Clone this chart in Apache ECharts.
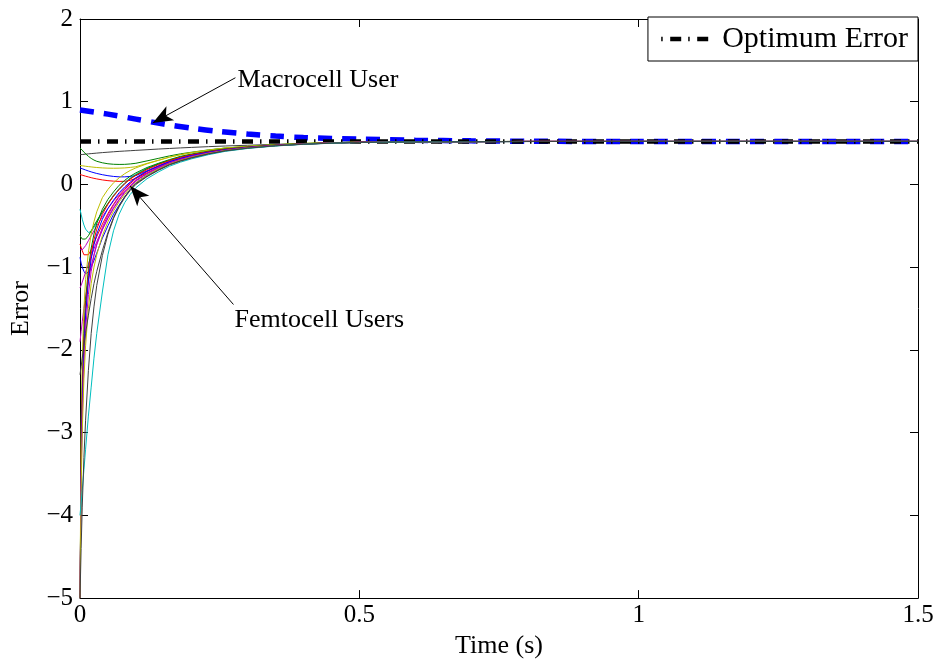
<!DOCTYPE html>
<html>
<head>
<meta charset="utf-8">
<script src="https://cdn.jsdelivr.net/npm/echarts@6/dist/echarts.min.js"></script>
<style>
  html, body { margin: 0; padding: 0; background: #fff; }
  #chart { width: 940px; height: 664px; }
</style>
</head>
<body>
<div id="chart"></div>
<script>
// Sample times (s) shared by all femtocell user trajectories
const TIME = [0, 0.002, 0.004, 0.007, 0.01, 0.015, 0.02, 0.025, 0.03, 0.04, 0.05, 0.06, 0.07, 0.08, 0.09, 0.1,
  0.12, 0.14, 0.16, 0.18, 0.2, 0.23, 0.26, 0.3, 0.35, 0.4, 0.45, 0.5, 0.6, 0.8, 1.0, 1.5];

// Femtocell user error trajectories (one array per user)
const FEMTO_1  = [0.36, 0.361, 0.362, 0.364, 0.366, 0.37, 0.373, 0.376, 0.379, 0.385, 0.39, 0.395, 0.4, 0.404, 0.408, 0.412,
  0.42, 0.428, 0.435, 0.442, 0.448, 0.457, 0.465, 0.474, 0.485, 0.494, 0.502, 0.508, 0.515, 0.519, 0.52, 0.52];
const FEMTO_2  = [0.44, 0.43, 0.415, 0.39, 0.37, 0.34, 0.315, 0.295, 0.28, 0.262, 0.25, 0.244, 0.242, 0.243, 0.248, 0.256,
  0.285, 0.315, 0.345, 0.37, 0.39, 0.418, 0.44, 0.46, 0.48, 0.495, 0.505, 0.512, 0.517, 0.52, 0.52, 0.52];
const FEMTO_3  = [0.23, 0.228, 0.226, 0.223, 0.22, 0.216, 0.212, 0.208, 0.205, 0.2, 0.197, 0.196, 0.197, 0.2, 0.206, 0.214,
  0.255, 0.292, 0.33, 0.36, 0.385, 0.415, 0.44, 0.46, 0.48, 0.495, 0.505, 0.512, 0.517, 0.52, 0.52, 0.52];
const FEMTO_4  = [0.2, 0.195, 0.19, 0.182, 0.175, 0.163, 0.152, 0.142, 0.133, 0.118, 0.106, 0.097, 0.092, 0.092, 0.097, 0.108,
  0.165, 0.222, 0.275, 0.315, 0.35, 0.39, 0.42, 0.448, 0.473, 0.49, 0.502, 0.51, 0.516, 0.52, 0.52, 0.52];
const FEMTO_5  = [0.12, 0.116, 0.112, 0.106, 0.1, 0.091, 0.082, 0.074, 0.067, 0.055, 0.046, 0.04, 0.037, 0.038, 0.05, 0.075,
  0.14, 0.205, 0.262, 0.305, 0.342, 0.384, 0.416, 0.446, 0.471, 0.489, 0.501, 0.509, 0.516, 0.52, 0.52, 0.52];
const FEMTO_6  = [-0.3, -0.36, -0.42, -0.49, -0.54, -0.58, -0.57, -0.52, -0.46, -0.34, -0.23, -0.13, -0.05, 0.02, 0.08, 0.125,
  0.195, 0.25, 0.295, 0.335, 0.363, 0.4, 0.43, 0.454, 0.477, 0.492, 0.503, 0.511, 0.517, 0.52, 0.52, 0.52];
const FEMTO_7  = [-0.62, -0.64, -0.66, -0.67, -0.66, -0.62, -0.56, -0.5, -0.44, -0.33, -0.23, -0.14, -0.06, 0.01, 0.07, 0.115,
  0.19, 0.245, 0.29, 0.33, 0.36, 0.397, 0.427, 0.452, 0.476, 0.491, 0.503, 0.511, 0.517, 0.52, 0.52, 0.52];
const FEMTO_8  = [-0.72, -0.76, -0.8, -0.85, -0.87, -0.85, -0.79, -0.71, -0.63, -0.48, -0.35, -0.24, -0.14, -0.06, 0.01, 0.07,
  0.155, 0.22, 0.272, 0.313, 0.348, 0.388, 0.419, 0.447, 0.472, 0.49, 0.502, 0.51, 0.516, 0.52, 0.52, 0.52];
const FEMTO_9  = [-0.78, -0.79, -0.79, -0.77, -0.74, -0.68, -0.62, -0.56, -0.5, -0.39, -0.29, -0.2, -0.12, -0.05, 0.02, 0.08,
  0.16, 0.22, 0.275, 0.315, 0.35, 0.39, 0.42, 0.448, 0.473, 0.49, 0.502, 0.51, 0.516, 0.52, 0.52, 0.52];
const FEMTO_10 = [-0.88, -0.95, -1.0, -1.05, -1.08, -1.06, -1.0, -0.92, -0.83, -0.65, -0.5, -0.36, -0.25, -0.15, -0.06, 0.02,
  0.115, 0.185, 0.248, 0.292, 0.33, 0.375, 0.41, 0.442, 0.469, 0.487, 0.5, 0.508, 0.515, 0.519, 0.52, 0.52];
const FEMTO_11 = [-1.25, -1.22, -1.18, -1.12, -1.06, -0.96, -0.87, -0.78, -0.69, -0.54, -0.41, -0.29, -0.19, -0.1, -0.03, 0.04,
  0.13, 0.2, 0.26, 0.302, 0.34, 0.382, 0.415, 0.445, 0.471, 0.488, 0.501, 0.509, 0.516, 0.52, 0.52, 0.52];
const FEMTO_12 = [-1.9, -1.78, -1.66, -1.5, -1.36, -1.16, -0.99, -0.85, -0.73, -0.55, -0.4, -0.28, -0.18, -0.09, -0.02, 0.05,
  0.135, 0.205, 0.263, 0.305, 0.342, 0.384, 0.416, 0.446, 0.471, 0.489, 0.501, 0.509, 0.516, 0.52, 0.52, 0.52];
const FEMTO_13 = [-5, -3.0, -2.1, -1.5, -1.15, -0.82, -0.6, -0.45, -0.33, -0.16, -0.06, 0.02, 0.08, 0.13, 0.17, 0.2,
  0.25, 0.29, 0.33, 0.36, 0.385, 0.415, 0.44, 0.46, 0.48, 0.495, 0.505, 0.512, 0.517, 0.52, 0.52, 0.52];
const FEMTO_14 = [-5, -3.3, -2.45, -1.8, -1.4, -1.02, -0.77, -0.6, -0.47, -0.3, -0.18, -0.09, -0.01, 0.05, 0.1, 0.14,
  0.205, 0.255, 0.3, 0.34, 0.368, 0.402, 0.43, 0.454, 0.477, 0.492, 0.503, 0.511, 0.517, 0.52, 0.52, 0.52];
const FEMTO_15 = [-5, -3.4, -2.55, -1.9, -1.5, -1.1, -0.84, -0.67, -0.54, -0.36, -0.24, -0.14, -0.06, 0.01, 0.065, 0.11,
  0.18, 0.238, 0.288, 0.328, 0.36, 0.396, 0.425, 0.451, 0.475, 0.491, 0.503, 0.511, 0.517, 0.52, 0.52, 0.52];
const FEMTO_16 = [-5, -3.5, -2.7, -2.0, -1.58, -1.17, -0.9, -0.73, -0.6, -0.42, -0.29, -0.19, -0.1, -0.03, 0.03, 0.08,
  0.16, 0.22, 0.275, 0.315, 0.35, 0.39, 0.42, 0.448, 0.473, 0.49, 0.502, 0.51, 0.516, 0.52, 0.52, 0.52];
const FEMTO_17 = [-5, -3.6, -2.85, -2.18, -1.76, -1.33, -1.05, -0.86, -0.72, -0.52, -0.37, -0.25, -0.15, -0.08, -0.01, 0.05,
  0.135, 0.2, 0.26, 0.303, 0.34, 0.382, 0.415, 0.445, 0.471, 0.488, 0.501, 0.509, 0.516, 0.52, 0.52, 0.52];
const FEMTO_18 = [-5, -3.7, -3.0, -2.35, -1.95, -1.5, -1.2, -1.0, -0.85, -0.62, -0.45, -0.32, -0.21, -0.12, -0.04, 0.02,
  0.115, 0.185, 0.248, 0.292, 0.33, 0.375, 0.41, 0.442, 0.469, 0.487, 0.5, 0.508, 0.515, 0.519, 0.52, 0.52];
const FEMTO_19 = [-2.3, -2.2, -2.1, -1.95, -1.8, -1.58, -1.38, -1.2, -1.05, -0.8, -0.58, -0.4, -0.26, -0.15, -0.06, 0.01,
  0.1, 0.175, 0.24, 0.286, 0.324, 0.37, 0.407, 0.44, 0.468, 0.487, 0.5, 0.508, 0.515, 0.519, 0.52, 0.52];
const FEMTO_20 = [-4.0, -3.85, -3.7, -3.45, -3.2, -2.8, -2.45, -2.1, -1.8, -1.3, -0.85, -0.56, -0.36, -0.22, -0.12, -0.04,
  0.07, 0.15, 0.22, 0.27, 0.31, 0.36, 0.4, 0.435, 0.465, 0.485, 0.498, 0.507, 0.515, 0.519, 0.52, 0.52];
const FEMTO_21 = [-5, -4.4, -3.9, -3.3, -2.85, -2.25, -1.8, -1.48, -1.22, -0.86, -0.6, -0.41, -0.27, -0.16, -0.07, 0.0,
  0.095, 0.17, 0.235, 0.282, 0.32, 0.368, 0.405, 0.438, 0.467, 0.486, 0.499, 0.508, 0.515, 0.519, 0.52, 0.52];

const FEMTO_USERS = [FEMTO_1, FEMTO_2, FEMTO_3, FEMTO_4, FEMTO_5, FEMTO_6, FEMTO_7,
  FEMTO_8, FEMTO_9, FEMTO_10, FEMTO_11, FEMTO_12, FEMTO_13, FEMTO_14, FEMTO_15,
  FEMTO_16, FEMTO_17, FEMTO_18, FEMTO_19, FEMTO_20, FEMTO_21];
// Colour key for each femtocell user: b g r c m y k
const FEMTO_COLOR_KEYS = ['k', 'g', 'y', 'b', 'r', 'c', 'g', 'r', 'm', 'b', 'm', 'm', 'y', 'g', 'r', 'b', 'm', 'y', 'k', 'c', 'k'];

// Macrocell user error trajectory
const MACRO_TIME = [0, 0.05, 0.1, 0.15, 0.2, 0.25, 0.3, 0.35, 0.4, 0.5, 0.6, 0.7, 0.8, 1.0, 1.5];
const MACRO = [0.90, 0.85, 0.79, 0.73, 0.68, 0.64, 0.61, 0.585, 0.567, 0.548, 0.535, 0.527, 0.522, 0.52, 0.52];

// Optimum error level
const OPTIMUM_TIME = [0, 1.5];
const OPTIMUM = [0.52, 0.52];

// Axis ranges and ticks
const X_MIN = 0, X_MAX = 1.5, X_STEP = 0.5;
const Y_MIN = -5, Y_MAX = 2, Y_STEP = 1;

const PALETTE = { b: '#0000ff', g: '#008000', r: '#ff0000', c: '#00bfbf', m: '#bf00bf', y: '#bfbf00', k: '#404040' };
const FONT = '"Liberation Serif", "Times New Roman", serif';
const OPT_DASH = [11, 7, 1.5, 7.5];

const zip = (xs, ys) => xs.map((x, i) => [x, ys[i]]);
const fmtTick = v => String(v).replace('-', '\u2212');

const chart = echarts.init(document.getElementById('chart'), null, { renderer: 'canvas' });

const femtoSeries = FEMTO_USERS.map((vals, i) => ({
  name: 'Femtocell User ' + (i + 1),
  type: 'line',
  data: zip(TIME, vals),
  smooth: false,
  showSymbol: false,
  symbol: 'none',
  clip: true,
  z: 4,
  lineStyle: { color: PALETTE[FEMTO_COLOR_KEYS[i]], width: 1 },
  itemStyle: { color: PALETTE[FEMTO_COLOR_KEYS[i]] },
  silent: true
}));

const axisCommon = {
  type: 'value',
  axisLine: { show: true, onZero: false, lineStyle: { color: '#000', width: 1 } },
  axisTick: { show: true, inside: true, length: 8, lineStyle: { color: '#000' } },
  splitLine: { show: false }
};

const option = {
  animation: false,
  backgroundColor: '#fff',
  grid: { left: 77, right: 22, top: 19, bottom: 55, containLabel: false },
  legend: {
    data: ['Optimum Error'],
    right: 22,
    top: 17,
    orient: 'vertical',
    backgroundColor: '#fff',
    borderColor: '#000',
    borderWidth: 1,
    borderRadius: 0,
    padding: [7, 10, 7, 11],
    itemWidth: 54,
    itemHeight: 14,
    itemGap: 0,
    itemStyle: { opacity: 0 },
    lineStyle: { color: '#000', width: 4.5, type: OPT_DASH, dashOffset: 18, cap: 'butt' },
    textStyle: { fontFamily: FONT, fontSize: 30, color: '#000', padding: [0, 0, 0, 2] },
    selectedMode: false
  },
  xAxis: [
    Object.assign({}, axisCommon, {
      min: X_MIN, max: X_MAX, interval: X_STEP, position: 'bottom',
      name: 'Time (s)', nameLocation: 'middle', nameGap: 30,
      nameTextStyle: { fontFamily: FONT, fontSize: 26, color: '#000' },
      axisLabel: { fontFamily: FONT, fontSize: 25, color: '#000', margin: 5, formatter: fmtTick }
    }),
    Object.assign({}, axisCommon, {
      min: X_MIN, max: X_MAX, interval: X_STEP, position: 'top',
      axisLabel: { show: false }
    })
  ],
  yAxis: [
    Object.assign({}, axisCommon, {
      min: Y_MIN, max: Y_MAX, interval: Y_STEP, position: 'left',
      name: 'Error', nameLocation: 'middle', nameGap: 46,
      nameTextStyle: { fontFamily: FONT, fontSize: 26, color: '#000' },
      axisLabel: { fontFamily: FONT, fontSize: 25, color: '#000', margin: 7, formatter: fmtTick }
    }),
    Object.assign({}, axisCommon, {
      min: Y_MIN, max: Y_MAX, interval: Y_STEP, position: 'right',
      axisLabel: { show: false }
    })
  ],
  series: [
    {
      name: 'Macrocell User',
      type: 'line',
      data: zip(MACRO_TIME, MACRO),
      smooth: 0.3,
      showSymbol: false,
      symbol: 'none',
      z: 2,
      lineStyle: { color: '#0000ff', width: 5.5, type: [14, 10], cap: 'butt' },
      itemStyle: { color: '#0000ff' },
      silent: true
    },
    {
      name: 'Optimum Error',
      type: 'line',
      data: zip(OPTIMUM_TIME, OPTIMUM),
      showSymbol: false,
      symbol: 'none',
      z: 3,
      lineStyle: { color: '#000', width: 4.5, type: OPT_DASH, cap: 'butt' },
      itemStyle: { color: '#000' },
      silent: true,
      markLine: {
        silent: true,
        animation: false,
        label: { show: false },
        lineStyle: { color: '#000', width: 1, type: 'solid' },
        emphasis: { disabled: true },
        data: [
          [{ coord: [0.2782, 1.29], symbol: 'none' }, { coord: [0.1302, 0.744], symbol: 'arrow', symbolSize: [12, 20] }],
          [{ coord: [0.2747, -1.451], symbol: 'none' }, { coord: [0.0897, -0.019], symbol: 'arrow', symbolSize: [12, 20] }]
        ]
      }
    }
  ].concat(femtoSeries)
};

chart.setOption(option);

// Annotation texts placed at the tails of the arrows
const macroTail = chart.convertToPixel({ gridIndex: 0 }, [0.2782, 1.29]);
const femtoTail = chart.convertToPixel({ gridIndex: 0 }, [0.2747, -1.451]);
chart.setOption({
  graphic: [
    {
      type: 'text', x: macroTail[0] + 2, y: macroTail[1] + 2, silent: true,
      style: { text: 'Macrocell User', font: '26px ' + FONT, fill: '#000', align: 'left', verticalAlign: 'middle' }
    },
    {
      type: 'text', x: femtoTail[0] + 1, y: femtoTail[1] + 16, silent: true,
      style: { text: 'Femtocell Users', font: '26px ' + FONT, fill: '#000', align: 'left', verticalAlign: 'middle' }
    }
  ]
});
</script>
</body>
</html>
